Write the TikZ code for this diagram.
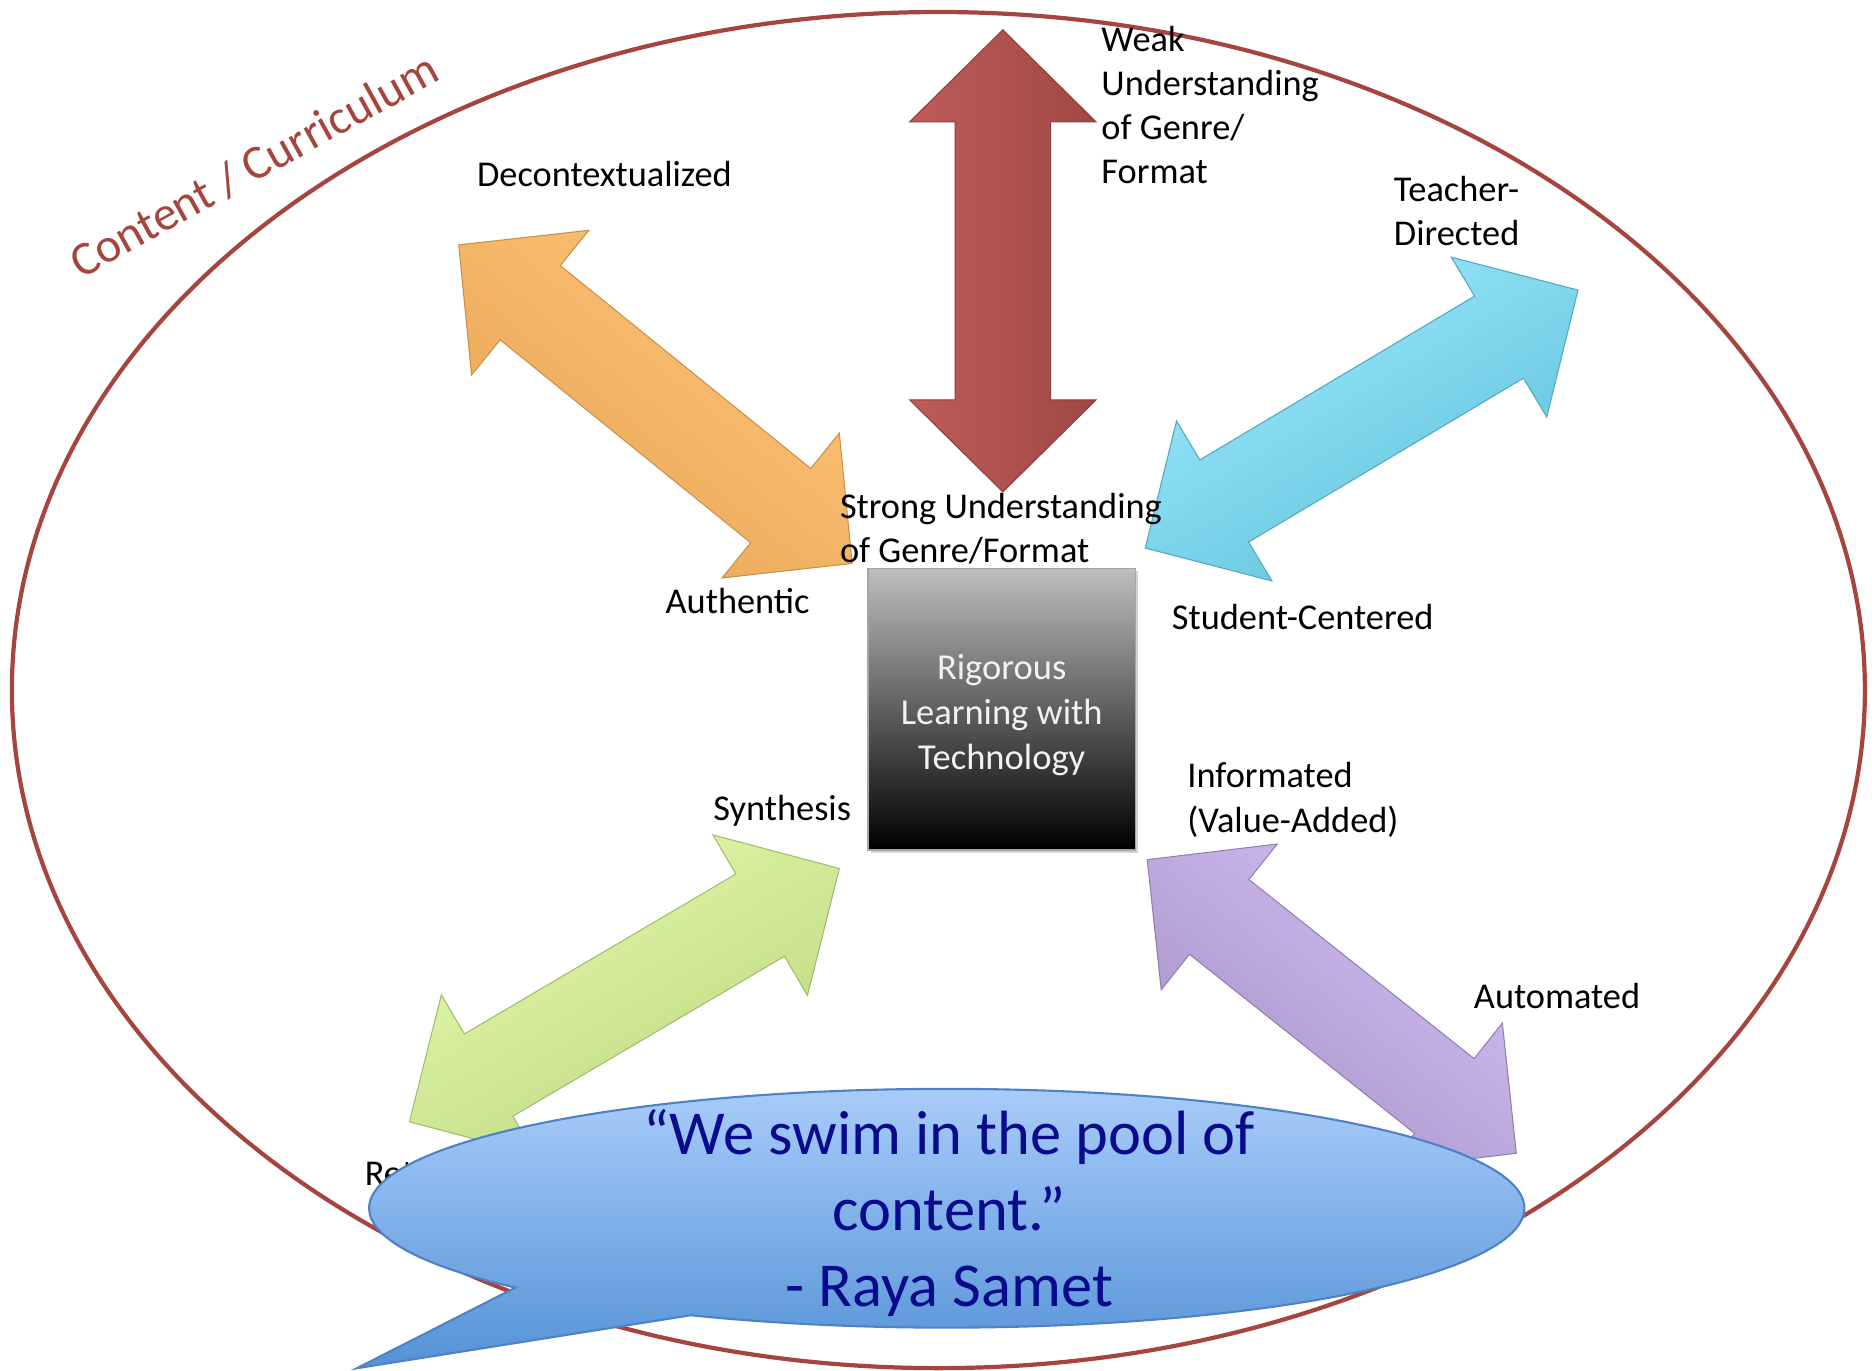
\documentclass[tikz,border=0pt]{standalone}
\usepackage{fontspec}
\setmainfont{Carlito}
\usepackage{tikz}
\usetikzlibrary{shapes.geometric,shapes.callouts,shadows}

\definecolor{pooledge}{RGB}{166,68,62}
\definecolor{redarr}{RGB}{174,78,74}
\definecolor{redlight}{RGB}{190,92,88}
\definecolor{orangearr}{RGB}{252,180,92}
\definecolor{orangelight}{RGB}{255,196,120}
\definecolor{cyanarr}{RGB}{102,210,238}
\definecolor{cyanlight}{RGB}{158,234,252}
\definecolor{greenarr}{RGB}{204,234,138}
\definecolor{greenlight}{RGB}{228,250,172}
\definecolor{purplearr}{RGB}{182,158,220}
\definecolor{purplelight}{RGB}{210,192,240}
\definecolor{bubbletop}{RGB}{168,204,250}
\definecolor{bubblebot}{RGB}{84,146,214}
\definecolor{bubbleline}{RGB}{80,130,195}
\definecolor{quoteblue}{RGB}{10,10,140}
\definecolor{coretop}{RGB}{190,190,190}

% double headed block arrow: centre, angle, length, colour, light colour
\newcommand{\duoarrow}[5]{%
  \begin{scope}[shift={#1}, rotate=#2]
    \pgfmathsetmacro{\arrhalf}{#3/2}
    \pgfmathsetmacro{\arrbase}{#3/2-77}
    \shade[top color=#5, middle color=#5!75!white, bottom color=#4!92!black, shading angle=#2,
        draw=#4!80!black, line width=0.3pt]
      (-\arrhalf,0) -- (-\arrbase,78) -- (-\arrbase,40) -- (\arrbase,40) -- (\arrbase,78)
      -- (\arrhalf,0) -- (\arrbase,-78) -- (\arrbase,-40) -- (-\arrbase,-40)
      -- (-\arrbase,-78) -- cycle;
  \end{scope}}

\begin{document}
\begin{tikzpicture}[x=0.34pt, y=-0.34pt,
    lbl/.style={anchor=base west, align=left, inner sep=0pt, font=\fontsize{10.35}{12.6}\selectfont},
    pool/.style={ellipse, draw=pooledge, line width=1.2pt, minimum width=527.7pt,
        minimum height=386.2pt, inner sep=0pt},
    core/.style={rectangle, minimum width=76.2pt, minimum height=80.2pt, top color=coretop,
        bottom color=black, draw=gray!70, line width=0.4pt,
        drop shadow={opacity=0.35, shadow xshift=0.8pt, shadow yshift=-0.8pt}},
    coretext/.style={text=gray!10, align=center, inner sep=0pt,
        font=\fontsize{10.4}{12.7}\selectfont},
    bubble/.style={ellipse callout, minimum width=329pt, minimum height=68pt, inner sep=0pt,
        callout pointer arc=22, top color=bubbletop, bottom color=bubblebot,
        draw=bubbleline, line width=0.6pt},
    quote/.style={align=center, text=quoteblue, inner sep=0pt,
        font=\fontsize{17.8}{21.7}\selectfont}]
    \useasboundingbox (0,0) rectangle (1568,1148);

    \node[pool] (pool) at (786,578) {};
    \node[anchor=base, rotate=29, text=pooledge, inner sep=0pt,
        font=\fontsize{13.7}{16}\selectfont] (title) at (219,150) {Content / Curriculum};

    % the five continua
    \duoarrow{(840,218.5)}{90}{387}{redarr}{redlight}
    \duoarrow{(549,338.5)}{-39}{424}{orangearr}{orangelight}
    \duoarrow{(1140.5,351)}{30.8}{422}{cyanarr}{cyanlight}
    \duoarrow{(523,833.5)}{30.5}{418}{greenarr}{greenlight}
    \duoarrow{(1115.5,843)}{-38.5}{395}{purplearr}{purplelight}

    \node[core] (core) at (839,594) {};
    \node[coretext] (corelbl) at ([yshift=-1.7pt]core.center) {Rigorous\\Learning with\\Technology};

    % multi-line labels sit on the baseline of their last line
    \node[lbl] (decon) at (399,156) {Decontextualized};
    \node[lbl] (weak) at (922,154) {Weak\\Understanding\\of Genre/\\Format};
    \node[lbl] (teacher) at (1167,206) {Teacher-\\Directed};
    \node[lbl] (strong) at (703,471) {Strong Understanding\\of Genre/Format};
    \node[lbl] (auth) at (557,514) {Authentic};
    \node[lbl] (student) at (981,527) {Student-Centered};
    \node[lbl] (synth) at (597,687) {Synthesis};
    \node[lbl] (inform) at (994,697) {Informated\\(Value-Added)};
    \node[lbl] (auto) at (1234,845) {Automated};
    \node[lbl] (retell) at (305,993) {Retelling};

    \node[bubble, callout absolute pointer={(299,1146)}] (bubble) at (793,1012) {};
    \node[quote] (quote) at (795,1016) {“We swim in the pool of\\content.”\\- Raya Samet};

\end{tikzpicture}
\end{document}
